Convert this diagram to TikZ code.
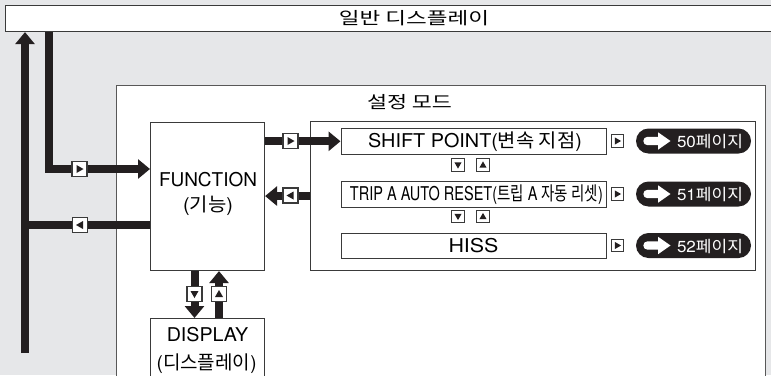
\documentclass[tikz,border=0pt]{standalone}
\usepackage{fontspec}
\setmainfont{TeX Gyre Heros}
\newfontfamily\kr{Noto Sans CJK KR}
\usepackage{graphicx}
\usetikzlibrary{arrows.meta}
\definecolor{bg}{HTML}{E6E7E9}
\definecolor{ln}{HTML}{231F20}
\definecolor{dk}{HTML}{3A3A3A}
\newcommand\fs[1]{\fontsize{#1}{#1}\selectfont}
\newcommand\fitw[2]{\resizebox{#1pt}{\height}{#2}}
\newcommand\pillarrow[1]{\fill[white] ([xshift=11.7pt,yshift=4.2pt]#1.west) -- ++(10.6pt,0pt) -- ++(0pt,4.5pt) -- ++(12.4pt,-8.7pt) -- ++(-12.4pt,-8.7pt) -- ++(0pt,4.5pt) -- ++(-10.6pt,0pt) arc[start angle=270,end angle=90,radius=4.2pt] -- cycle;}
\begin{document}
\begin{tikzpicture}[x=1pt,y=-1pt,line join=miter,
  box/.style={draw=dk,line width=1.1pt,fill=white,inner sep=0pt,anchor=north west},
  conn/.style={draw=ln,line width=8pt},
  tipA/.style={-{Triangle[length=12pt,width=19pt]}},
  mk/.style={draw=dk,fill=white,line width=1.2pt,minimum size=15pt,inner sep=0pt},
  mks/.style={draw=dk,fill=white,line width=1.1pt,minimum size=12.5pt,inner sep=0pt},
  bR/.style={path picture={\fill[ln] ([xshift=-3pt,yshift=4pt]path picture bounding box.center) -- ([xshift=-3pt,yshift=-4pt]path picture bounding box.center) -- ([xshift=4pt]path picture bounding box.center) -- cycle;}},
  bL/.style={path picture={\fill[ln] ([xshift=3pt,yshift=4pt]path picture bounding box.center) -- ([xshift=3pt,yshift=-4pt]path picture bounding box.center) -- ([xshift=-4pt]path picture bounding box.center) -- cycle;}},
  bD/.style={path picture={\fill[ln] ([xshift=-4pt,yshift=3pt]path picture bounding box.center) -- ([xshift=4pt,yshift=3pt]path picture bounding box.center) -- ([yshift=-4pt]path picture bounding box.center) -- cycle;}},
  bU/.style={path picture={\fill[ln] ([xshift=-4pt,yshift=-3pt]path picture bounding box.center) -- ([xshift=4pt,yshift=-3pt]path picture bounding box.center) -- ([yshift=4pt]path picture bounding box.center) -- cycle;}},
  sR/.style={path picture={\fill[ln] ([xshift=-2.7pt,yshift=3.6pt]path picture bounding box.center) -- ([xshift=-2.7pt,yshift=-3.6pt]path picture bounding box.center) -- ([xshift=3.6pt]path picture bounding box.center) -- cycle;}},
  sD/.style={path picture={\fill[ln] ([xshift=-3.6pt,yshift=2.7pt]path picture bounding box.center) -- ([xshift=3.6pt,yshift=2.7pt]path picture bounding box.center) -- ([yshift=-3.6pt]path picture bounding box.center) -- cycle;}},
  sU/.style={path picture={\fill[ln] ([xshift=-3.6pt,yshift=-2.7pt]path picture bounding box.center) -- ([xshift=3.6pt,yshift=-2.7pt]path picture bounding box.center) -- ([yshift=3.6pt]path picture bounding box.center) -- cycle;}},
  pill/.style={fill=ln,rounded corners=12.5pt,minimum width=115pt,minimum height=25pt,inner sep=0pt},
  txt/.style={inner sep=0pt,anchor=base,text=black},
  wtxt/.style={inner sep=0pt,anchor=base,text=white}]
\useasboundingbox (0,0) rectangle (771,375);
\fill[bg] (0,0) rectangle (771,375);
% boxes
\node[box,minimum width=780pt,minimum height=26pt] (top) at (5,5) {};
\node[box,draw=dk!85,line width=1.4pt,minimum width=649pt,minimum height=320pt] (mode) at (116,85) {};
\node[box,minimum width=445pt,minimum height=149pt] (frame) at (310,121) {};
\node[box,minimum width=114pt,minimum height=148.5pt] (fn) at (150,121.5) {};
\node[box,minimum width=114pt,minimum height=90pt] (disp) at (150,318) {};
\node[box,minimum width=265.5pt,minimum height=25.5pt] (shift) at (340.5,128) {};
\node[box,minimum width=265.5pt,minimum height=25.5pt] (trip) at (340.5,181) {};
\node[box,minimum width=265.5pt,minimum height=25.5pt] (hiss) at (340.5,232.7) {};
% routing coordinates
\coordinate (x49) at (49,0);
\coordinate (r1) at (0,169);
\coordinate (bot) at (25,353);
\coordinate (r2) at (0,225);
\coordinate (d1) at (194.5,0);
\coordinate (d2) at (219,0);
% connectors
\draw[conn,tipA] (top.south -| x49) -- (x49 |- r1) -- (fn.west |- r1);
\draw[conn,tipA] (bot) -- (top.south -| bot);
\draw[conn] (fn.west |- r2) -- (bot |- r2);
\draw[conn,tipA] (fn.east |- shift.west) -- (shift.west);
\draw[conn,tipA] (frame.west) -- (fn.east |- frame.west);
\draw[conn,tipA] (fn.south -| d1) -- (disp.north -| d1);
\draw[conn,tipA] (disp.north -| d2) -- (fn.south -| d2);
% markers
\node[mk,bR] (m1) at (79.5,169) {};
\node[mk,bL] (m2) at (80,225) {};
\node[mk,bR] (m3) at (290.5,141) {};
\node[mk,bL] (m4) at (290.5,195.5) {};
\node[mk,bD] (m5) at (194.5,294) {};
\node[mk,bU] (m6) at (219,294) {};
\node[mks,sD] (s1) at (458,165) {};
\node[mks,sU] (s2) at (483,165) {};
\node[mks,sD] (s3) at (458,216.5) {};
\node[mks,sU] (s4) at (483,216.5) {};
\node[mks,sR] (s5) at (617.5,141) {};
\node[mks,sR] (s6) at (617.5,194) {};
\node[mks,sR] (s7) at (617.5,245.5) {};
% pills
\node[pill] (p1) at (693.5,141) {};
\node[pill] (p2) at (693.5,194) {};
\node[pill] (p3) at (693.5,245.5) {};
\pillarrow{p1}
\pillarrow{p2}
\pillarrow{p3}
\node[wtxt] (pt1) at (710,147.5) {\fs{16}\fitw{66}{50{\kr 페이지}}};
\node[wtxt] (pt2) at (710,200.5) {\fs{16}\fitw{66}{51{\kr 페이지}}};
\node[wtxt] (pt3) at (710,252) {\fs{16}\fitw{66}{52{\kr 페이지}}};
% texts
\node[txt] (ttop) at (414,24.5) {\fs{17}\fitw{150}{\kr 일반 디스플레이}};
\node[txt] (tmode) at (409.5,108) {\fs{17}\fitw{85}{\kr 설정 모드}};
\node[txt] (tfn) at (208,186.5) {\fs{19}\fitw{98}{FUNCTION}};
\node[txt] (tfn2) at (208,211) {\fs{19}\fitw{50}{({\kr 기능})}};
\node[txt] (tdisp) at (207.5,341.5) {\fs{19}\fitw{81.5}{DISPLAY}};
\node[txt] (tdisp2) at (206.7,369.5) {\fs{19}\fitw{100}{({\kr 디스플레이})}};
\node[txt] (tshift) at (475,147.5) {\fs{19}\fitw{214}{SHIFT POINT({\kr 변속 지점})}};
\node[txt] (ttrip) at (476.5,200.5) {\fs{19}\fitw{253}{TRIP A AUTO RESET({\kr 트립} A {\kr 자동 리셋})}};
\node[txt] (thiss) at (473.5,252) {\fs{19}\fitw{50}{HISS}};
\end{tikzpicture}
\end{document}
